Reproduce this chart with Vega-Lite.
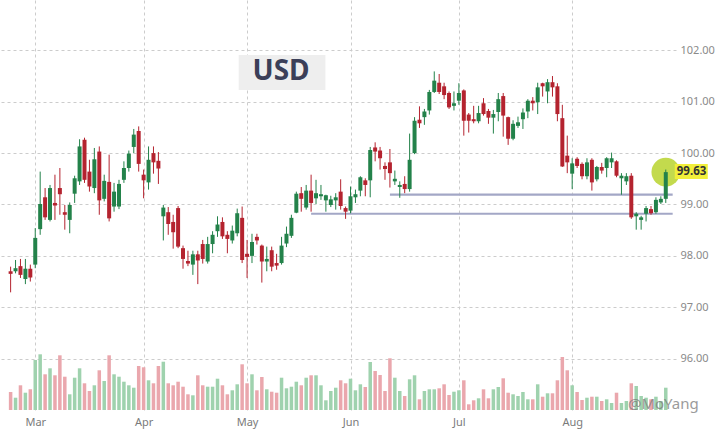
{
  "$schema": "https://vega.github.io/schema/vega-lite/v6.json",
  "width": 676,
  "height": 410,
  "autosize": {"type": "none"},
  "padding": {"left": 0, "top": 0, "right": 41, "bottom": 27},
  "background": "white",
  "datasets": {
    "candles": [
      {"i":0,"o":97.70,"h":97.79,"l":97.29,"c":97.65,"vol":18},
      {"i":1,"o":97.70,"h":97.92,"l":97.66,"c":97.76,"vol":12.3},
      {"i":2,"o":97.80,"h":97.94,"l":97.57,"c":97.63,"vol":24.7},
      {"i":3,"o":97.55,"h":97.94,"l":97.45,"c":97.75,"vol":17.3},
      {"i":4,"o":97.75,"h":97.83,"l":97.50,"c":97.58,"vol":20.7},
      {"i":5,"o":97.83,"h":98.54,"l":97.76,"c":98.35,"vol":50},
      {"i":6,"o":98.52,"h":99.64,"l":98.41,"c":99.01,"vol":55.7},
      {"i":7,"o":99.14,"h":99.32,"l":98.70,"c":98.75,"vol":35.7},
      {"i":8,"o":98.70,"h":99.38,"l":98.67,"c":99.32,"vol":41.7},
      {"i":9,"o":99.03,"h":99.58,"l":98.70,"c":98.98,"vol":34.7},
      {"i":10,"o":99.32,"h":99.71,"l":98.80,"c":99.20,"vol":54.7},
      {"i":11,"o":98.85,"h":98.99,"l":98.51,"c":98.80,"vol":33.3},
      {"i":12,"o":98.70,"h":99.04,"l":98.44,"c":98.99,"vol":15.7},
      {"i":13,"o":99.21,"h":99.56,"l":99.03,"c":99.51,"vol":32.3},
      {"i":14,"o":99.45,"h":100.27,"l":99.38,"c":100.13,"vol":41.7},
      {"i":15,"o":100.26,"h":100.30,"l":99.42,"c":99.48,"vol":26.7},
      {"i":16,"o":99.64,"h":99.87,"l":99.25,"c":99.35,"vol":19},
      {"i":17,"o":99.32,"h":100.10,"l":99.22,"c":99.88,"vol":24.7},
      {"i":18,"o":100.03,"h":100.13,"l":98.80,"c":99.08,"vol":39.7},
      {"i":19,"o":99.11,"h":99.58,"l":99.06,"c":99.46,"vol":29},
      {"i":20,"o":99.44,"h":99.97,"l":98.67,"c":98.73,"vol":54.7},
      {"i":21,"o":98.96,"h":99.42,"l":98.86,"c":99.25,"vol":35.7},
      {"i":22,"o":98.96,"h":99.48,"l":98.91,"c":99.40,"vol":33.3},
      {"i":23,"o":99.48,"h":99.84,"l":99.42,"c":99.71,"vol":28.3},
      {"i":24,"o":99.71,"h":100.05,"l":99.64,"c":99.99,"vol":24.7},
      {"i":25,"o":100.12,"h":100.47,"l":100.00,"c":100.36,"vol":22.3},
      {"i":26,"o":100.43,"h":100.52,"l":99.64,"c":99.79,"vol":44},
      {"i":27,"o":99.58,"h":99.68,"l":99.12,"c":99.47,"vol":42.7},
      {"i":28,"o":99.43,"h":100.13,"l":99.29,"c":99.87,"vol":29.7},
      {"i":29,"o":100.00,"h":100.13,"l":99.60,"c":99.82,"vol":26.7},
      {"i":30,"o":99.85,"h":100.02,"l":99.40,"c":99.70,"vol":44},
      {"i":31,"o":98.77,"h":98.99,"l":98.30,"c":98.94,"vol":48.3},
      {"i":32,"o":98.85,"h":98.95,"l":98.41,"c":98.62,"vol":26.7},
      {"i":33,"o":98.66,"h":98.80,"l":98.14,"c":98.46,"vol":24.7},
      {"i":34,"o":98.93,"h":98.97,"l":98.15,"c":98.18,"vol":28.3},
      {"i":35,"o":98.15,"h":98.20,"l":97.75,"c":97.94,"vol":23.3},
      {"i":36,"o":97.90,"h":98.10,"l":97.80,"c":97.85,"vol":15.7},
      {"i":37,"o":97.83,"h":98.10,"l":97.63,"c":98.03,"vol":14.7},
      {"i":38,"o":98.03,"h":98.10,"l":97.45,"c":97.91,"vol":34.7},
      {"i":39,"o":98.23,"h":98.31,"l":97.85,"c":97.94,"vol":24.7},
      {"i":40,"o":97.89,"h":98.37,"l":97.85,"c":98.23,"vol":23.3},
      {"i":41,"o":98.23,"h":98.48,"l":98.05,"c":98.41,"vol":23.3},
      {"i":42,"o":98.48,"h":98.77,"l":98.37,"c":98.61,"vol":31.3},
      {"i":43,"o":98.66,"h":98.75,"l":98.33,"c":98.38,"vol":24.7},
      {"i":44,"o":98.41,"h":98.48,"l":98.05,"c":98.33,"vol":15.7},
      {"i":45,"o":98.30,"h":98.59,"l":98.24,"c":98.49,"vol":19.7},
      {"i":46,"o":98.44,"h":98.92,"l":98.38,"c":98.83,"vol":25.7},
      {"i":47,"o":98.74,"h":98.96,"l":97.86,"c":97.92,"vol":45.7},
      {"i":48,"o":98.04,"h":98.31,"l":97.57,"c":97.98,"vol":26.7},
      {"i":49,"o":98.00,"h":98.43,"l":97.86,"c":98.27,"vol":35.7},
      {"i":50,"o":98.37,"h":98.43,"l":98.22,"c":98.30,"vol":19.7},
      {"i":51,"o":98.20,"h":98.22,"l":97.48,"c":97.89,"vol":33},
      {"i":52,"o":97.89,"h":98.18,"l":97.70,"c":97.94,"vol":20.7},
      {"i":53,"o":98.11,"h":98.18,"l":97.70,"c":97.79,"vol":18.3},
      {"i":54,"o":97.86,"h":98.04,"l":97.73,"c":97.81,"vol":17.3},
      {"i":55,"o":97.86,"h":98.37,"l":97.83,"c":98.20,"vol":32.3},
      {"i":56,"o":98.24,"h":98.57,"l":98.17,"c":98.43,"vol":21.7},
      {"i":57,"o":98.39,"h":98.80,"l":98.35,"c":98.74,"vol":23.3},
      {"i":58,"o":98.84,"h":99.25,"l":98.83,"c":99.21,"vol":28.3},
      {"i":59,"o":99.22,"h":99.34,"l":98.86,"c":99.11,"vol":24.7},
      {"i":60,"o":98.94,"h":99.38,"l":98.90,"c":99.27,"vol":32.3},
      {"i":61,"o":99.27,"h":99.58,"l":98.86,"c":99.03,"vol":34.7},
      {"i":62,"o":99.12,"h":99.48,"l":99.01,"c":99.22,"vol":34.7},
      {"i":63,"o":99.16,"h":99.38,"l":99.09,"c":99.20,"vol":24.7},
      {"i":64,"o":99.08,"h":99.19,"l":98.86,"c":99.18,"vol":9.7},
      {"i":65,"o":98.99,"h":99.17,"l":98.95,"c":99.10,"vol":19},
      {"i":66,"o":99.08,"h":99.22,"l":98.90,"c":99.14,"vol":22.3},
      {"i":67,"o":99.25,"h":99.49,"l":98.90,"c":98.97,"vol":29.7},
      {"i":68,"o":98.93,"h":98.96,"l":98.72,"c":98.86,"vol":26.7},
      {"i":69,"o":98.88,"h":99.35,"l":98.83,"c":99.16,"vol":31.3},
      {"i":70,"o":99.14,"h":99.29,"l":99.03,"c":99.20,"vol":19.7},
      {"i":71,"o":99.27,"h":99.55,"l":99.16,"c":99.53,"vol":25.7},
      {"i":72,"o":99.47,"h":99.51,"l":99.16,"c":99.38,"vol":23},
      {"i":73,"o":99.47,"h":100.12,"l":99.14,"c":100.06,"vol":48},
      {"i":74,"o":100.11,"h":100.21,"l":99.84,"c":100.03,"vol":39},
      {"i":75,"o":100.05,"h":100.12,"l":99.68,"c":99.90,"vol":35},
      {"i":76,"o":99.75,"h":99.82,"l":99.48,"c":99.69,"vol":19},
      {"i":77,"o":99.82,"h":100.08,"l":99.33,"c":99.61,"vol":51.7},
      {"i":78,"o":99.45,"h":99.66,"l":99.38,"c":99.50,"vol":32.3},
      {"i":79,"o":99.34,"h":99.45,"l":99.13,"c":99.38,"vol":19},
      {"i":80,"o":99.40,"h":99.55,"l":99.22,"c":99.30,"vol":14},
      {"i":81,"o":99.30,"h":100.38,"l":99.25,"c":99.87,"vol":30.7},
      {"i":82,"o":100.00,"h":100.70,"l":99.98,"c":100.63,"vol":34.7},
      {"i":83,"o":100.65,"h":100.91,"l":100.49,"c":100.58,"vol":10.7},
      {"i":84,"o":100.70,"h":100.86,"l":100.55,"c":100.81,"vol":19},
      {"i":85,"o":100.83,"h":101.23,"l":100.75,"c":101.19,"vol":20.7},
      {"i":86,"o":101.19,"h":101.59,"l":101.17,"c":101.41,"vol":20.7},
      {"i":87,"o":101.37,"h":101.54,"l":101.15,"c":101.19,"vol":21.7},
      {"i":88,"o":101.30,"h":101.37,"l":101.05,"c":101.13,"vol":25.7},
      {"i":89,"o":101.17,"h":101.20,"l":100.86,"c":100.89,"vol":15},
      {"i":90,"o":100.92,"h":101.20,"l":100.83,"c":100.97,"vol":18.3},
      {"i":91,"o":101.02,"h":101.36,"l":100.94,"c":101.17,"vol":19.7},
      {"i":92,"o":101.22,"h":101.24,"l":100.34,"c":100.63,"vol":29.7},
      {"i":93,"o":100.75,"h":100.78,"l":100.40,"c":100.63,"vol":5.7},
      {"i":94,"o":100.66,"h":100.92,"l":100.58,"c":100.62,"vol":9.7},
      {"i":95,"o":100.62,"h":100.92,"l":100.58,"c":100.78,"vol":11.7},
      {"i":96,"o":100.97,"h":101.07,"l":100.73,"c":100.76,"vol":20.7},
      {"i":97,"o":100.82,"h":100.86,"l":100.57,"c":100.69,"vol":11.7},
      {"i":98,"o":100.69,"h":100.84,"l":100.38,"c":100.76,"vol":20.7},
      {"i":99,"o":100.80,"h":101.17,"l":100.62,"c":101.05,"vol":23},
      {"i":100,"o":101.11,"h":101.17,"l":100.32,"c":100.73,"vol":31.7},
      {"i":101,"o":100.70,"h":100.71,"l":100.16,"c":100.28,"vol":17.3},
      {"i":102,"o":100.28,"h":100.64,"l":100.25,"c":100.57,"vol":15.7},
      {"i":103,"o":100.53,"h":100.71,"l":100.49,"c":100.60,"vol":14},
      {"i":104,"o":100.66,"h":100.87,"l":100.47,"c":100.79,"vol":18},
      {"i":105,"o":100.81,"h":101.05,"l":100.68,"c":101.02,"vol":10.7},
      {"i":106,"o":101.02,"h":101.09,"l":100.83,"c":100.97,"vol":10.7},
      {"i":107,"o":100.99,"h":101.37,"l":100.76,"c":101.28,"vol":25.7},
      {"i":108,"o":101.36,"h":101.37,"l":101.10,"c":101.30,"vol":13.3},
      {"i":109,"o":101.20,"h":101.44,"l":100.97,"c":101.38,"vol":16.7},
      {"i":110,"o":101.38,"h":101.50,"l":101.10,"c":101.28,"vol":16.7},
      {"i":111,"o":101.30,"h":101.36,"l":100.62,"c":100.76,"vol":29.7},
      {"i":112,"o":100.68,"h":100.94,"l":99.73,"c":99.74,"vol":53},
      {"i":113,"o":99.95,"h":100.34,"l":99.61,"c":99.82,"vol":39.7},
      {"i":114,"o":99.60,"h":99.90,"l":99.30,"c":99.80,"vol":24.7},
      {"i":115,"o":99.89,"h":99.92,"l":99.71,"c":99.75,"vol":18},
      {"i":116,"o":99.79,"h":99.82,"l":99.49,"c":99.55,"vol":10},
      {"i":117,"o":99.55,"h":99.90,"l":99.49,"c":99.82,"vol":12.3},
      {"i":118,"o":99.87,"h":99.90,"l":99.27,"c":99.43,"vol":13.3},
      {"i":119,"o":99.49,"h":99.75,"l":99.45,"c":99.73,"vol":13.3},
      {"i":120,"o":99.73,"h":99.81,"l":99.60,"c":99.66,"vol":9},
      {"i":121,"o":99.71,"h":99.92,"l":99.53,"c":99.90,"vol":10.7},
      {"i":122,"o":99.82,"h":100.01,"l":99.71,"c":99.90,"vol":7},
      {"i":123,"o":99.84,"h":99.86,"l":99.53,"c":99.56,"vol":17.3},
      {"i":124,"o":99.51,"h":99.61,"l":99.19,"c":99.56,"vol":7},
      {"i":125,"o":99.45,"h":99.61,"l":99.38,"c":99.55,"vol":9},
      {"i":126,"o":99.56,"h":99.61,"l":98.72,"c":98.75,"vol":26.7},
      {"i":127,"o":98.77,"h":98.85,"l":98.51,"c":98.82,"vol":24},
      {"i":128,"o":98.70,"h":98.78,"l":98.51,"c":98.75,"vol":14},
      {"i":129,"o":98.82,"h":98.97,"l":98.67,"c":98.93,"vol":12.3},
      {"i":130,"o":98.91,"h":98.97,"l":98.80,"c":98.83,"vol":10.7},
      {"i":131,"o":98.85,"h":99.14,"l":98.82,"c":99.09,"vol":13.3},
      {"i":132,"o":99.04,"h":99.16,"l":99.01,"c":99.11,"vol":9},
      {"i":133,"o":99.11,"h":99.68,"l":99.03,"c":99.63,"vol":22.3}
    ],
    "levels": [
      {"from": 77, "to": 134.4, "level": 99.19},
      {"from": 61, "to": 134.4, "level": 98.82}
    ]
  },
  "layer": [
    {
      "data": {"name": "candles"},
      "mark": {"type": "bar", "size": 3.5},
      "encoding": {
        "x": {
          "field": "i",
          "type": "quantitative",
          "scale": {"domain": [-1.14, 134.06], "nice": false, "zero": false},
          "axis": {
            "values": [5, 27, 48, 69, 91, 114],
            "labelExpr": "['Mar','Apr','May','Jun','Jul','Aug'][indexof([5,27,48,69,91,114], datum.value)]",
            "grid": true,
            "gridDash": [3, 3],
            "gridColor": "#cccccc",
            "domain": false,
            "ticks": false,
            "labelPadding": 6,
            "labelFontSize": 11,
            "labelColor": "#7a7a7a",
            "title": null
          }
        },
        "y": {
          "field": "vol",
          "type": "quantitative",
          "scale": {"domain": [0, 410], "nice": false},
          "axis": null
        },
        "color": {"condition": {"test": "datum.c >= datum.o", "value": "#9fd2ae"}, "value": "#eaa7ad"}
      }
    },
    {
      "layer": [
        {
          "data": {"name": "levels"},
          "mark": {"type": "rule", "color": "#a3a7c6", "strokeWidth": 2.2},
          "encoding": {
            "x": {"field": "from", "type": "quantitative", "scale": {"domain": [-1.14, 134.06], "nice": false, "zero": false}},
            "x2": {"field": "to"},
            "y": {
              "field": "level",
              "type": "quantitative",
              "scale": {"domain": [95.0, 102.98], "nice": false, "zero": false},
              "axis": {
                "orient": "right",
                "values": [96, 97, 98, 99, 100, 101, 102],
                "format": ".2f",
                "grid": true,
                "gridDash": [3, 3],
                "gridColor": "#cccccc",
                "domain": false,
                "ticks": false,
                "labelPadding": 4,
                "labelFontSize": 11,
                "labelColor": "#8a8a8a",
                "title": null
              }
            }
          }
        },
        {
          "data": {"name": "candles"},
          "transform": [{"filter": "datum.i == 133"}],
          "mark": {"type": "point", "filled": true, "size": 820, "color": "#bcd63a", "opacity": 0.9},
          "encoding": {
            "x": {"field": "i", "type": "quantitative", "scale": {"domain": [-1.14, 134.06], "nice": false, "zero": false}},
            "y": {"field": "c", "type": "quantitative"}
          }
        },
        {
          "data": {"name": "candles"},
          "mark": {"type": "rule", "strokeWidth": 1},
          "encoding": {
            "x": {"field": "i", "type": "quantitative", "scale": {"domain": [-1.14, 134.06], "nice": false, "zero": false}},
            "y": {"field": "l", "type": "quantitative"},
            "y2": {"field": "h"},
            "color": {"condition": {"test": "datum.c >= datum.o", "value": "#23824a"}, "value": "#b4232f"}
          }
        },
        {
          "data": {"name": "candles"},
          "mark": {"type": "bar", "size": 4},
          "encoding": {
            "x": {"field": "i", "type": "quantitative", "scale": {"domain": [-1.14, 134.06], "nice": false, "zero": false}},
            "y": {"field": "o", "type": "quantitative"},
            "y2": {"field": "c"},
            "color": {"condition": {"test": "datum.c >= datum.o", "value": "#23824a"}, "value": "#b4232f"}
          }
        },
        {
          "data": {"name": "candles"},
          "transform": [{"filter": "datum.i == 133"}],
          "mark": {"type": "rect", "color": "#f2ef3a", "xOffset": 9, "x2Offset": 42, "yOffset": -8, "y2Offset": 7},
          "encoding": {
            "x": {"field": "i", "type": "quantitative", "scale": {"domain": [-1.14, 134.06], "nice": false, "zero": false}},
            "x2": {"field": "i"},
            "y": {"field": "c", "type": "quantitative"},
            "y2": {"field": "c"}
          }
        },
        {
          "data": {"name": "candles"},
          "transform": [{"filter": "datum.i == 133"}],
          "mark": {"type": "text", "align": "left", "baseline": "middle", "xOffset": 11, "fontSize": 11.5, "fontWeight": "bold", "color": "#333333"},
          "encoding": {
            "x": {"field": "i", "type": "quantitative", "scale": {"domain": [-1.14, 134.06], "nice": false, "zero": false}},
            "y": {"field": "c", "type": "quantitative"},
            "text": {"field": "c", "type": "quantitative", "format": ".2f"}
          }
        },
        {
          "data": {"values": [{"label": "USD"}]},
          "mark": {"type": "rect", "color": "#eeeeee"},
          "encoding": {
            "x": {"datum": 46.3, "type": "quantitative", "scale": {"domain": [-1.14, 134.06], "nice": false, "zero": false}},
            "x2": {"datum": 63.9},
            "y": {"datum": 101.91, "type": "quantitative"},
            "y2": {"datum": 101.23}
          }
        },
        {
          "data": {"values": [{"label": "USD"}]},
          "mark": {"type": "text", "align": "center", "baseline": "middle", "fontSize": 28, "fontWeight": "bold", "color": "#3b3f58"},
          "encoding": {
            "x": {"datum": 54.9, "type": "quantitative", "scale": {"domain": [-1.14, 134.06], "nice": false, "zero": false}},
            "y": {"datum": 101.58, "type": "quantitative"},
            "text": {"field": "label"}
          }
        },
        {
          "data": {"values": [{"label": "@MoYang"}]},
          "mark": {"type": "text", "align": "center", "baseline": "middle", "fontSize": 15, "color": "#7a7a7a", "opacity": 0.75},
          "encoding": {
            "x": {"datum": 132.5, "type": "quantitative", "scale": {"domain": [-1.14, 134.06], "nice": false, "zero": false}},
            "y": {"datum": 95.12, "type": "quantitative"},
            "text": {"field": "label"}
          }
        }
      ]
    }
  ],
  "resolve": {"scale": {"y": "independent"}},
  "config": {
    "view": {"stroke": null},
    "font": "Noto Sans"
  }
}
